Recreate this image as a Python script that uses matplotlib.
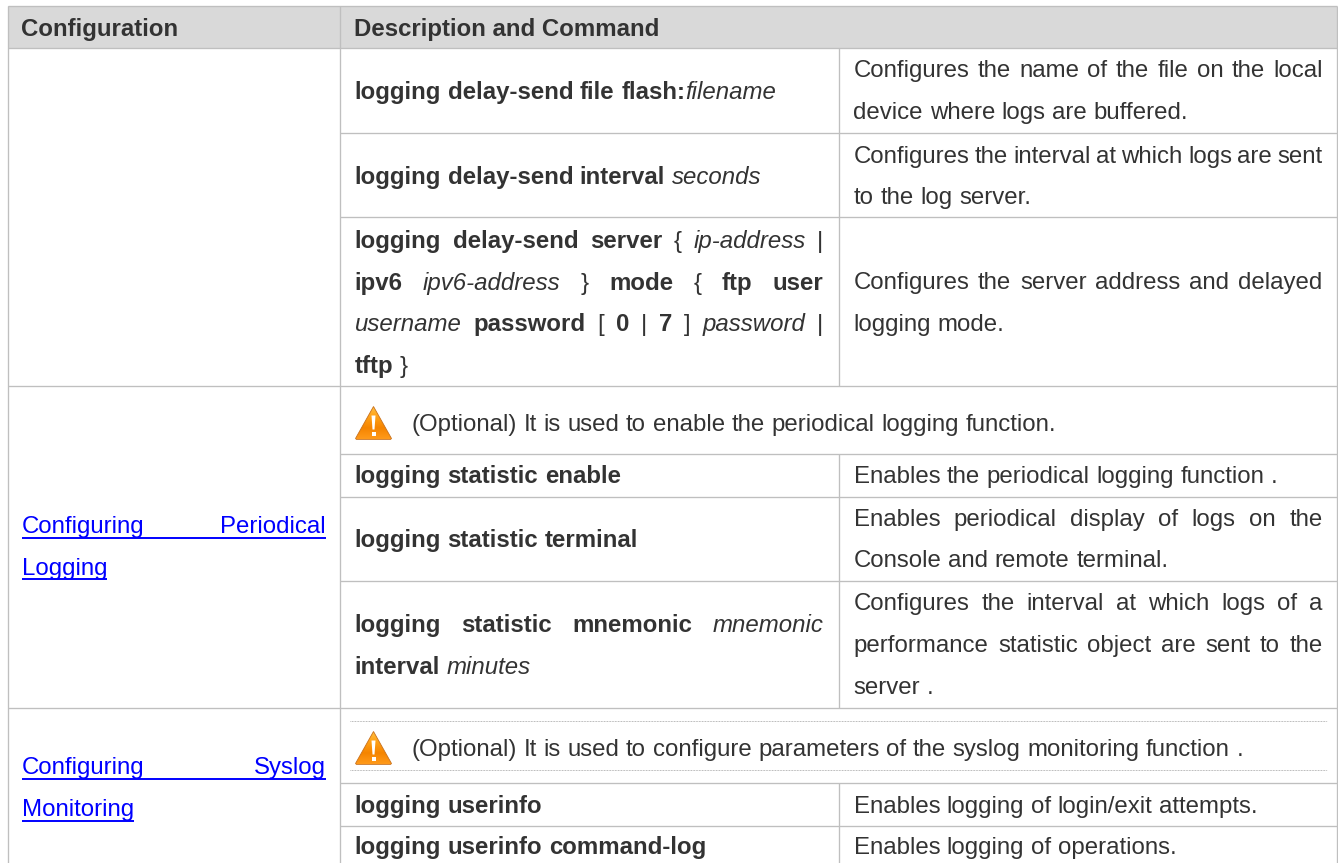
import re

import numpy as np
import matplotlib
matplotlib.use("Agg")
import matplotlib.pyplot as plt
from matplotlib.colors import LinearSegmentedColormap
from matplotlib.patches import Polygon


# ----------------------------------------------------------------------
# Table text. ** marks bold runs, __ marks italic runs
# ----------------------------------------------------------------------
HEADERS = ["Configuration", "Description and Command"]

LINK_LINES = [
    "Configuring Periodical",
    "Logging",
    "Configuring Syslog",
    "Monitoring",
]

WARNING_LINES = [
    "(Optional) It is used to enable the periodical logging function.",
    "(Optional) It is used to configure parameters of the syslog monitoring function .",
]

COMMAND_LINES = [
    "**logging delay-send file flash:**__filename__",
    "**logging delay-send interval** __seconds__",
    "**logging delay-send server** { __ip-address__ |",
    "**ipv6** __ipv6-address__ } **mode** { **ftp user**",
    "__username__ **password** [ **0** | **7** ] __password__ |",
    "**tftp** }",
    "**logging statistic enable**",
    "**logging statistic terminal**",
    "**logging statistic mnemonic** __mnemonic__",
    "**interval** __minutes__",
    "**logging userinfo**",
    "**logging userinfo command-log**",
]

DESCRIPTION_LINES = [
    "Configures the name of the file on the local",
    "device where logs are buffered.",
    "Configures the interval at which logs are sent",
    "to the log server.",
    "Configures the server address and delayed",
    "logging mode.",
    "Enables the periodical logging function .",
    "Enables periodical display of logs on the",
    "Console and remote terminal.",
    "Configures the interval at which logs of a",
    "performance statistic object are sent to the",
    "server .",
    "Enables logging of login/exit attempts.",
    "Enables logging of operations.",
]

# ----------------------------------------------------------------------
# Layout, in pixels of the 1338x863 picture
# ----------------------------------------------------------------------
WIDTH = 1338
HEIGHT = 863
FONT_SIZE = 17.3
TEXT_COLOUR = "#333333"
LINK_COLOUR = "#0000FF"
RULE_COLOUR = "#BFBFBF"
HEADER_FILL = "#D9D9D9"

LEFT = 7.5
COL2 = 339.5
COL3 = 838.5
RIGHT = 1336.5
TOP = 6.5
HEADER_BOTTOM = 48.5

LINK_X = (21.5, 326)
COMMAND_X = (354.5, 823.5)
DESCRIPTION_X = (853.5, 1322.5)
WARNING_TEXT_X = 411.5
WARNING_ICON_X = 355.5

HEADER_BASE = 36
LINK_BASE = [533, 574.5, 774, 816]
LINK_JUSTIFY = [True, False, True, False]
COMMAND_BASE = [99, 184, 248, 290, 331, 373, 483, 547, 632, 674, 813, 854]
COMMAND_JUSTIFY = [False, False, True, True, True, False, False, False, True, False, False, False]
DESCRIPTION_BASE = [77, 119, 163, 204, 289, 331, 483, 526, 567, 610, 652, 694, 813, 854]
DESCRIPTION_JUSTIFY = [True, False, True, False, True, False, False, True, False, True, True, False, False, False]
WARNING_BASE = [431, 756]
WARNING_ICON_TOP = [406.5, 731.5]

FULL_RULES = [TOP, HEADER_BOTTOM, 385.5, 707.5]
RIGHT_RULES = [133.5, 217.5, 453.5, 496.5, 580.5, 782.5, 825.5]
COL3_SPANS = [(HEADER_BOTTOM, 385.5), (453.5, 707.5), (782.5, HEIGHT)]
DOTTED_RULES = [721, 770]
DOTTED_X = (350, 1327)

SPACE_EM = 0.278

plt.rcParams["font.family"] = ["Liberation Sans", "DejaVu Sans"]


def parse_runs(line: str) -> list[list[tuple[str, str]]]:
    """
    Splits a marked up line into words, each word a list of (text, style) runs.
    """
    words = []
    current = []
    for piece in re.split(r"(\*\*.+?\*\*|__.+?__)", line):
        if not piece:
            continue
        if piece.startswith("**"):
            style, body = "bold", piece[2:-2]
        elif piece.startswith("__"):
            style, body = "italic", piece[2:-2]
        else:
            style, body = "normal", piece
        parts = body.split(" ")
        for i, part in enumerate(parts):
            if i > 0 and current:
                words.append(current)
                current = []
            if part:
                current.append((part, style))
    if current:
        words.append(current)
    return words


def make_text(ax, x, y, body, style, colour):
    return ax.text(
        x,
        y,
        body,
        fontsize=FONT_SIZE,
        color=colour,
        fontweight="bold" if style == "bold" else "normal",
        fontstyle="italic" if style == "italic" else "normal",
        ha="left",
        va="baseline",
    )


def run_width(renderer, artist) -> float:
    width, _, _ = renderer.get_text_width_height_descent(
        artist.get_text(), artist.get_fontproperties(), False
    )
    return width


def draw_line(ax, renderer, line, y, x_left, x_right=None, colour=TEXT_COLOUR):
    """
    Draws one line of mixed runs. With x_right the word gaps are stretched
    so the line fills the whole width, the way Word justifies a paragraph.
    """
    words = parse_runs(line)
    placed = []
    total = 0.0
    for word in words:
        artists = []
        width = 0.0
        for body, style in word:
            artist = make_text(ax, 0, y, body, style, colour)
            w = run_width(renderer, artist)
            artists.append((artist, w))
            width += w
        placed.append((artists, width))
        total += width

    space = SPACE_EM * FONT_SIZE * 100 / 72
    if x_right is not None and len(words) > 1:
        space = (x_right - x_left - total) / (len(words) - 1)

    x = x_left
    for artists, width in placed:
        run_x = x
        for artist, w in artists:
            artist.set_x(run_x)
            run_x += w
        x += width + space
    return x - space


def draw_warning(ax, x, top):
    """
    Orange warning triangle with a white exclamation mark.
    """
    w = 36
    h = 33
    outline = [(x + w / 2, top), (x + w, top + h - 1), (x + w - 1, top + h), (x + 1, top + h), (x, top + h - 1)]
    cmap = LinearSegmentedColormap.from_list("warn", ["#FFC040", "#FFA015", "#F58400", "#FF9A1A"])
    shade = np.linspace(0, 1, 64).reshape(-1, 1)
    image = ax.imshow(shade, cmap=cmap, extent=(x, x + w, top + h, top), aspect="auto", zorder=2)
    patch = Polygon(outline, closed=True, facecolor="none", edgecolor="#C8701C", linewidth=0.6, zorder=3)
    ax.add_patch(patch)
    image.set_clip_path(patch)
    bar = [(x + w / 2 - 2, top + 9), (x + w / 2 + 2, top + 9), (x + w / 2 + 1, top + 23), (x + w / 2 - 1, top + 23)]
    ax.add_patch(Polygon(bar, closed=True, facecolor="white", edgecolor="none", zorder=4))
    ax.add_patch(Polygon(
        [(x + w / 2 - 2, top + 25), (x + w / 2 + 2, top + 25), (x + w / 2 + 2, top + 29), (x + w / 2 - 2, top + 29)],
        closed=True, facecolor="white", edgecolor="none", zorder=4,
    ))


def draw_rules(ax):
    ax.fill_between([LEFT, RIGHT], TOP, HEADER_BOTTOM, color=HEADER_FILL, linewidth=0, zorder=0)

    rule = dict(color=RULE_COLOUR, linewidth=0.95, zorder=1)
    ax.hlines(FULL_RULES, LEFT, RIGHT, **rule)
    ax.hlines(RIGHT_RULES, COL2, RIGHT, **rule)
    ax.vlines([LEFT, COL2, RIGHT], TOP, HEIGHT, **rule)
    for y_top, y_bottom in COL3_SPANS:
        ax.vlines(COL3, y_top, y_bottom, **rule)

    ax.hlines(DOTTED_RULES, DOTTED_X[0], DOTTED_X[1], color="#AAAAAA", linewidth=0.7,
              linestyles=(0, (0.8, 0.8)), zorder=1)


def main() -> None:
    fig = plt.figure(figsize=(WIDTH / 100, HEIGHT / 100), dpi=100)
    ax = fig.add_axes([0, 0, 1, 1])
    ax.axis("off")
    renderer = fig.canvas.get_renderer()

    draw_rules(ax)

    make_text(ax, LINK_X[0], HEADER_BASE, HEADERS[0], "bold", TEXT_COLOUR)
    make_text(ax, COMMAND_X[0], HEADER_BASE, HEADERS[1], "bold", TEXT_COLOUR)

    for line, y, justify in zip(LINK_LINES, LINK_BASE, LINK_JUSTIFY):
        right = LINK_X[1] if justify else None
        end = draw_line(ax, renderer, line, y, LINK_X[0], right, colour=LINK_COLOUR)
        ax.hlines(y + 4.5, LINK_X[0], end, color=LINK_COLOUR, linewidth=1.4, zorder=3)

    for line, y, justify in zip(COMMAND_LINES, COMMAND_BASE, COMMAND_JUSTIFY):
        draw_line(ax, renderer, line, y, COMMAND_X[0], COMMAND_X[1] if justify else None)

    for line, y, justify in zip(DESCRIPTION_LINES, DESCRIPTION_BASE, DESCRIPTION_JUSTIFY):
        draw_line(ax, renderer, line, y, DESCRIPTION_X[0], DESCRIPTION_X[1] if justify else None)

    for line, y, top in zip(WARNING_LINES, WARNING_BASE, WARNING_ICON_TOP):
        draw_line(ax, renderer, line, y, WARNING_TEXT_X)
        draw_warning(ax, WARNING_ICON_X, top)

    ax.set_xlim(0, WIDTH)
    ax.set_ylim(HEIGHT, 0)

    fig.savefig("out.png", dpi=100)
    plt.close(fig)


if __name__ == "__main__":
    main()
